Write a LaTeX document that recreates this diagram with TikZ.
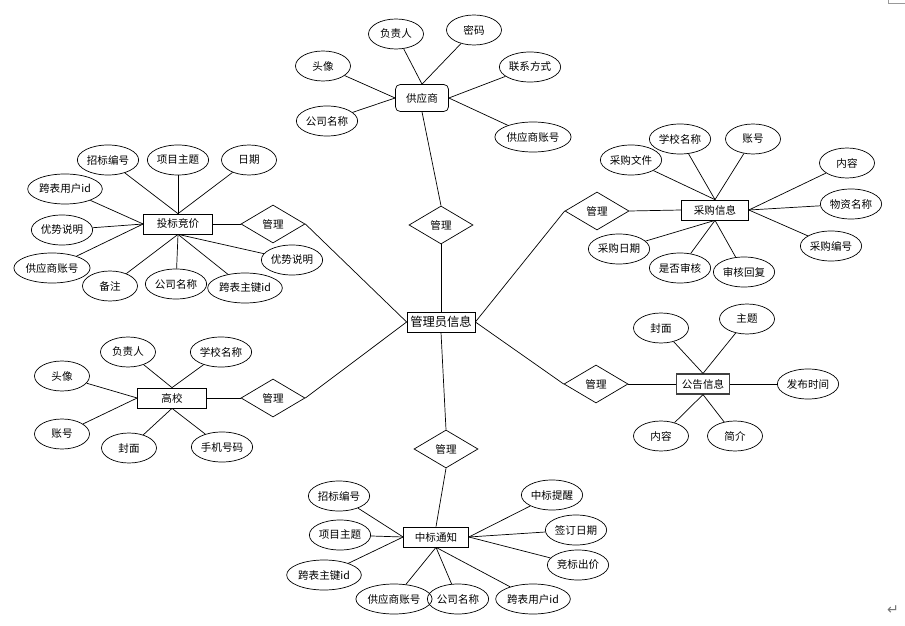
\documentclass[tikz,border=0pt]{standalone}
\usepackage{fontspec}
\setmainfont{Noto Sans CJK SC}
\newfontfamily\dejavu{DejaVu Sans}
\usetikzlibrary{shapes.geometric}

\begin{document}
\begin{tikzpicture}[
    x=0.03cm, y=-0.03cm,
    font=\fontsize{9}{10}\selectfont,
    line width=0.6pt,
    entity/.style={draw, minimum width=2.07cm, minimum height=0.6cm, inner sep=0pt},
    attr/.style={draw, ellipse, minimum width=1.65cm, minimum height=0.9cm, inner xsep=0.5pt, inner ysep=0pt},
    rel/.style={draw, diamond, minimum width=1.92cm, minimum height=1.14cm, inner sep=0pt}
]
\useasboundingbox (0,0) rectangle (905,626);

\node[entity, minimum width=2.04cm, font=\fontsize{10.5}{12}\selectfont] (admin) at (441,322) {管理员信息};

\node[rel] (rSup) at (441,225) {管理};
\node[rel] (rBid) at (273,224) {管理};
\node[rel] (rBuy) at (597,211) {管理};
\node[rel] (rSchool) at (273,398) {管理};
\node[rel] (rNotice) at (596,384) {管理};
\node[rel] (rAward) at (446,449) {管理};

\node[entity, rounded corners=4pt, minimum width=1.59cm, minimum height=0.81cm] (sup) at (422,98) {供应商};
\node[entity] (bid) at (178,224) {投标竞价};
\node[entity, minimum width=2.01cm] (buy) at (715,210) {采购信息};
\node[entity] (school) at (172,398) {高校};
\node[entity, minimum width=1.59cm, line width=1pt, draw=black!75] (notice) at (703,384) {公告信息};
\node[entity, minimum width=1.95cm] (award) at (436,537) {中标通知};

\node[attr] (supBoss) at (396,34) {负责人};
\node[attr] (supPwd) at (474,30) {密码};
\node[attr] (supHead) at (323,66) {头像};
\node[attr] (supComp) at (327,121) {公司名称};
\node[attr] (supTel) at (530,67) {联系方式};
\node[attr] (supAcc) at (533,137) {供应商账号};

\node[attr] (bidNo) at (108,160) {招标编号};
\node[attr] (bidTopic) at (178,160) {项目主题};
\node[attr] (bidDate) at (249,160) {日期};
\node[attr] (bidUser) at (65,189) {跨表用户id};
\node[attr] (bidAdvL) at (62,230) {优势说明};
\node[attr] (bidAcc) at (52,268) {供应商账号};
\node[attr] (bidNote) at (110,286) {备注};
\node[attr] (bidComp) at (176,284) {公司名称};
\node[attr] (bidKey) at (245,288) {跨表主键id};
\node[attr] (bidAdvR) at (292,260) {优势说明};

\node[attr] (buySchool) at (680,139) {学校名称};
\node[attr] (buyAcc) at (753,139) {账号};
\node[attr] (buyFile) at (631,160) {采购文件};
\node[attr] (buyCont) at (847,163) {内容};
\node[attr] (buyName) at (851,204) {物资名称};
\node[attr] (buyNo) at (831,246) {采购编号};
\node[attr] (buyDate) at (619,249) {采购日期};
\node[attr] (buyCheck) at (680,268) {是否审核};
\node[attr] (buyReply) at (744,272) {审核回复};

\node[attr] (schBoss) at (128,352) {负责人};
\node[attr] (schName) at (221,352) {学校名称};
\node[attr] (schHead) at (62,376) {头像};
\node[attr] (schAcc) at (62,434) {账号};
\node[attr] (schCover) at (129,448) {封面};
\node[attr] (schTel) at (222,447) {手机号码};

\node[attr] (ntcCover) at (661,328) {封面};
\node[attr] (ntcTopic) at (747,319) {主题};
\node[attr] (ntcTime) at (808,384) {发布时间};
\node[attr] (ntcCont) at (661,436) {内容};
\node[attr] (ntcBrief) at (735,436) {简介};

\node[attr] (awdNo) at (339,496) {招标编号};
\node[attr] (awdTopic) at (340,535) {项目主题};
\node[attr] (awdKey) at (324,575) {跨表主键id};
\node[attr] (awdRemind) at (552,495) {中标提醒};
\node[attr] (awdDate) at (576,530) {签订日期};
\node[attr] (awdPrice) at (578,565) {竞标出价};
\node[attr] (awdAcc) at (394,599) {供应商账号};
\node[attr] (awdComp) at (458,599) {公司名称};
\node[attr] (awdUser) at (533,599) {跨表用户id};

\foreach \a/\b in {sup.south/rSup.north, rSup.south/admin.north, bid.east/rBid.west, rBid.east/admin.west,
    buy.west/rBuy.east, rBuy.west/admin.east, school.east/rSchool.west, rSchool.east/admin.west,
    notice.west/rNotice.east, rNotice.west/admin.east, award.north/rAward.south, rAward.north/admin.south}
  \draw (\a) -- (\b);

\foreach \a/\b in {sup.north/supBoss, sup.north/supPwd, sup.west/supHead, sup.west/supComp, sup.east/supTel, sup.east/supAcc,
    bid.north/bidNo, bid.north/bidTopic, bid.north/bidDate, bid.west/bidUser, bid.west/bidAdvL, bid.west/bidAcc,
    bid.south/bidNote, bid.south/bidComp, bid.south/bidKey, bid.south/bidAdvR,
    buy.north/buySchool, buy.north/buyAcc, buy.north/buyFile, buy.east/buyCont, buy.east/buyName, buy.east/buyNo,
    buy.south/buyDate, buy.south/buyCheck, buy.south/buyReply,
    school.north/schBoss, school.north/schName, school.west/schHead, school.west/schAcc, school.south/schCover, school.south/schTel,
    notice.north/ntcCover, notice.north/ntcTopic, notice.east/ntcTime, notice.south/ntcCont, notice.south/ntcBrief,
    award.west/awdNo, award.west/awdTopic, award.west/awdKey, award.east/awdRemind, award.east/awdDate, award.east/awdPrice,
    award.south/awdAcc, award.south/awdComp, award.south/awdUser}
  \draw (\a) -- (\b);

\draw[black!40, line width=0.4pt] (888,0) -- (888,3) -- (905,3);
\node[text=black!55, font=\dejavu\fontsize{12}{12}\selectfont] (ret) at (893,610) {↵};
\end{tikzpicture}
\end{document}
